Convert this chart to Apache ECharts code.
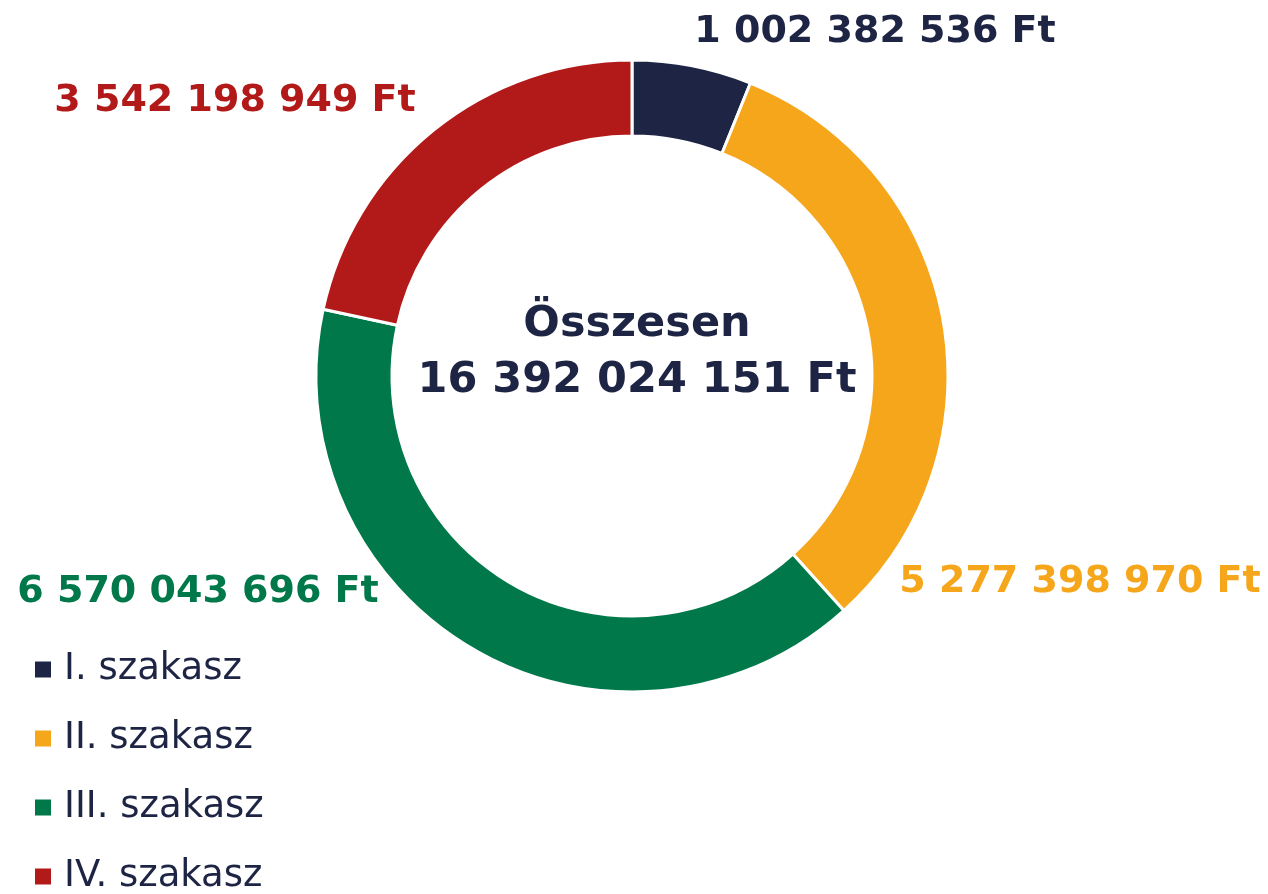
<!DOCTYPE html>
<html>
<head>
<meta charset="utf-8">
<script src="https://cdn.jsdelivr.net/npm/echarts@6/dist/echarts.min.js"></script>
<style>
  html, body { margin: 0; padding: 0; background: #fff; }
  #chart { width: 1268px; height: 894px; }
</style>
</head>
<body>
<div id="chart"></div>
<script>
// szakaszok és összegek (Ft)
var categories = ['I. szakasz', 'II. szakasz', 'III. szakasz', 'IV. szakasz'];
var values = [1002382536, 5277398970, 6570043696, 3542198949];
var colors = ['#1e2443', '#f6a61b', '#00784a', '#b21a1a'];

// címkék helye (középpont, px)
var labelPos = [[875, 32], [1080, 582], [198, 592], [235, 101]];

function fmt(n) {
  return String(n).replace(/\B(?=(\d{3})+(?!\d))/g, ' ') + ' Ft';
}

var total = values.reduce(function (a, b) { return a + b; }, 0);

var chart = echarts.init(document.getElementById('chart'));
chart.setOption({
  animation: false,
  color: colors,
  title: {
    text: 'Összesen\n' + fmt(total),
    left: 632,
    top: 292,
    textAlign: 'center',
    textStyle: {
      fontFamily: 'DejaVu Sans',
      fontWeight: 'bold',
      fontSize: 43,
      lineHeight: 56,
      color: '#1e2443'
    }
  },
  legend: {
    orient: 'vertical',
    left: 28,
    top: 646,
    height: 360,
    icon: 'rect',
    itemWidth: 18,
    itemHeight: 18,
    itemGap: 32,
    data: categories,
    textStyle: {
      fontFamily: 'DejaVu Sans',
      fontSize: 37,
      color: '#1e2443',
      padding: [0, 0, 0, 7]
    }
  },
  series: [{
    type: 'pie',
    center: [632, 376],
    radius: [240, 316],
    startAngle: 90,
    clockwise: true,
    itemStyle: { borderColor: '#fff', borderWidth: 3 },
    label: {
      show: true,
      position: 'outside',
      overflow: 'none',
      formatter: function (p) { return fmt(p.value); },
      fontFamily: 'DejaVu Sans',
      fontWeight: 'bold',
      fontSize: 38,
      color: 'inherit'
    },
    labelLine: { show: false },
    labelLayout: function (p) {
      var pos = labelPos[p.dataIndex];
      return { x: pos[0], y: pos[1], align: 'center', verticalAlign: 'middle' };
    },
    emphasis: { disabled: true },
    data: categories.map(function (c, i) {
      return { name: c, value: values[i], label: { color: colors[i] } };
    })
  }]
});
</script>
</body>
</html>
